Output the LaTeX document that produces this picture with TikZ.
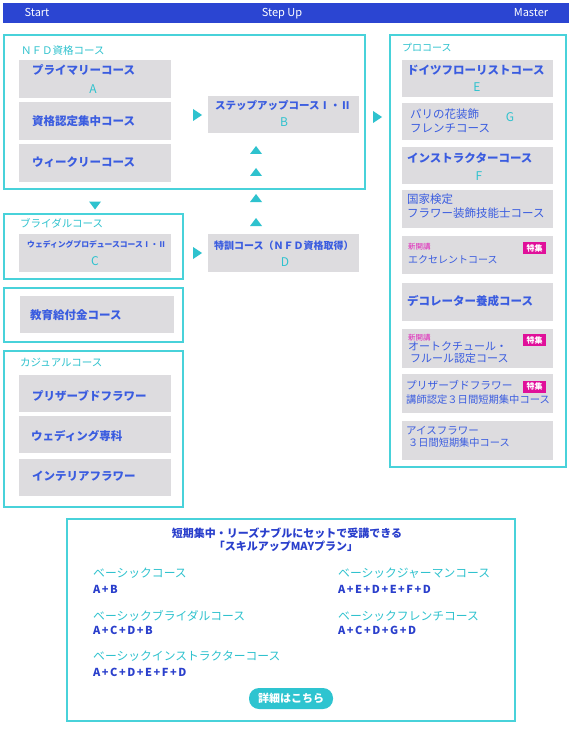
\documentclass[tikz,border=0pt]{standalone}
\usepackage{fontspec}
\setmainfont{Noto Sans CJK JP}
\newfontfamily\codefont[LetterSpace=14]{Noto Sans CJK JP}
\usetikzlibrary{fit}
\definecolor{barblue}{HTML}{2B45D2}
\definecolor{frmc}{HTML}{48D2DA}
\definecolor{tealt}{HTML}{2EC2CE}
\definecolor{grayf}{HTML}{DDDCDF}
\definecolor{txtblue}{HTML}{3A5CE0}
\definecolor{darkblue}{HTML}{2A3FCC}
\definecolor{magt}{HTML}{E020B8}
\definecolor{badgec}{HTML}{E0109A}
\definecolor{btnc}{HTML}{2EC4D0}
\begin{document}
\begin{tikzpicture}[x=1pt,y=-1pt,
  frm/.style={draw=frmc, line width=1.3pt, inner sep=0, fill=white},
  gbox/.style={fill=grayf, draw=none, inner sep=0},
  tw/.style={anchor=west, inner sep=0, text height=0.88em, text depth=0.12em},
  blb/.style={tw, text=txtblue, font=\bfseries\fontsize{#1}{#1}\selectfont},
  blb/.default=11.5,
  blr/.style={tw, text=txtblue, font=\fontsize{#1}{#1}\selectfont},
  blr/.default=11.5,
  ttl/.style={tw, text=tealt, font=\fontsize{#1}{#1}\selectfont},
  ttl/.default=10.5,
  lett/.style={anchor=center, inner sep=0, text height=0.88em, text depth=0.12em, text=tealt, font=\fontsize{12}{12}\selectfont},
  newk/.style={tw, text=magt, font=\fontsize{7.5}{7.5}\selectfont},
  badge/.style={fill=badgec, text=white, inner sep=0, minimum width=23pt, minimum height=12pt, font=\bfseries\fontsize{8}{8}\selectfont},
  code/.style={tw, text=darkblue, font=\codefont\bfseries\fontsize{11}{11}\selectfont},
  bartxt/.style={anchor=center, inner sep=0, text height=0.88em, text depth=0.12em, text=white, font=\fontsize{11}{11}\selectfont},
  rtri/.pic={\fill[tealt] (-4.5,-6) -- (4.5,0) -- (-4.5,6) -- cycle;},
  utri/.pic={\fill[tealt] (-6,4) -- (0,-4) -- (6,4) -- cycle;},
  dtri/.pic={\fill[tealt] (-6,-4) -- (0,4) -- (6,-4) -- cycle;}
]
\useasboundingbox (0,0) rectangle (572,738);
\fill[white] (0,0) rectangle (572,738);

% top bar
\node[fill=barblue, inner sep=0, fit={(3,3)(569,23)}] (bar) {};
\node[bartxt] (tstart) at (37,13) {Start};
\node[bartxt] (tstep) at (282,13) {Step Up};
\node[bartxt] (tmaster) at (531,13) {Master};

% frames
\node[frm, fit={(4,35)(365,189)}] (nfd) {};
\node[frm, fit={(390,35)(566,467)}] (pro) {};
\node[frm, fit={(4,214)(183,279)}] (bridal) {};
\node[frm, fit={(4,288)(183,342)}] (edu) {};
\node[frm, fit={(4,351)(183,507)}] (casual) {};
\node[frm, fit={(67,519)(515,721)}] (plan) {};

% NFD
\node[ttl] (tnfd) at (21,51) {ＮＦＤ資格コース};
\node[gbox, fit={(19,60)(171,98)}] (gA) {};
\node[gbox, fit={(19,102)(171,140)}] (gS) {};
\node[gbox, fit={(19,144)(171,182)}] (gW) {};
\node[blb] (tA) at (32,71) {プライマリーコース};
\node[lett] (lA) at (93,90) {A};
\node[blb] (tS) at (32,122) {資格認定集中コース};
\node[blb] (tW) at (32,163) {ウィークリーコース};

\node[gbox, fit={(208,96)(359,133)}] (gB) {};
\node[blb=10.5] (tB) at (215,106) {ステップアップコースⅠ・Ⅱ};
\node[lett] (lB) at (284,123) {B};

% special D
\node[gbox, fit={(208,234)(359,272)}] (gD) {};
\node[blb=10] (tD) at (214,246) {特訓コース（ＮＦＤ資格取得）};
\node[lett] (lD) at (285,263) {D};

% bridal
\node[ttl] (tbr) at (20,224) {ブライダルコース};
\node[gbox, fit={(19,234)(171,272)}] (gC) {};
\node[blb=7.8] (tC) at (27,244) {ウェディングプロデュースコースⅠ・Ⅱ};
\node[lett] (lC) at (95,262) {C};

% education
\node[gbox, fit={(20,296)(174,333)}] (gE1) {};
\node[blb] (tE1) at (30,316) {教育給付金コース};

% casual
\node[ttl] (tcas) at (20,363) {カジュアルコース};
\node[gbox, fit={(19,375)(171,412)}] (gc1) {};
\node[gbox, fit={(19,416)(171,453)}] (gc2) {};
\node[gbox, fit={(19,459)(171,496)}] (gc3) {};
\node[blb] (tc1) at (32,397) {プリザーブドフラワー};
\node[blb] (tc2) at (31,437) {ウェディング専科};
\node[blb] (tc3) at (32,477) {インテリアフラワー};

% pro
\node[ttl=10] (tpro) at (402,48) {プロコース};
\node[gbox, fit={(402,60)(553,97)}] (pE) {};
\node[gbox, fit={(402,103)(553,140)}] (pG) {};
\node[gbox, fit={(402,147)(553,184)}] (pF) {};
\node[gbox, fit={(402,190)(553,228)}] (pK) {};
\node[gbox, fit={(402,236)(553,274)}] (pX) {};
\node[gbox, fit={(402,283)(553,321)}] (pDc) {};
\node[gbox, fit={(402,329)(553,368)}] (pH) {};
\node[gbox, fit={(402,374)(553,413)}] (pP) {};
\node[gbox, fit={(402,421)(553,460)}] (pI) {};

\node[blb] (tE) at (407,71) {ドイツフローリストコース};
\node[lett] (lE) at (477,88) {E};
\node[blr] (tG1) at (410,115) {パリの花装飾};
\node[blr] (tG2) at (410,129) {フレンチコース};
\node[lett] (lG) at (510,118) {G};
\node[blb] (tF) at (407,159) {インストラクターコース};
\node[lett] (lF) at (479,177) {F};
\node[blr] (tK1) at (407,200) {国家検定};
\node[blr] (tK2) at (407,214) {フラワー装飾技能士コース};
\node[newk] (nX) at (408,246) {新開講};
\node[badge] (bX) at (534.5,248) {特集};
\node[blr=10] (tX) at (408,260) {エクセレントコース};
\node[blb] (tDc) at (407,302) {デコレーター養成コース};
\node[newk] (nH) at (408,337) {新開講};
\node[badge] (bH) at (534.5,340) {特集};
\node[blr=11] (tH1) at (408,347) {オートクチュール・};
\node[blr=11] (tH2) at (410,359) {フルール認定コース};
\node[blr=10.7] (tP1) at (406,386) {プリザーブドフラワー};
\node[badge] (bP) at (534.5,386.5) {特集};
\node[blr=10.3] (tP2) at (406,400) {講師認定３日間短期集中コース};
\node[blr=10.5] (tI1) at (406,431) {アイスフラワー};
\node[blr=10.2] (tI2) at (408,443) {３日間短期集中コース};

% arrows
\pic at (197.5,115) {rtri};
\pic at (377.5,117) {rtri};
\pic at (197.5,253) {rtri};
\pic at (256,150) {utri};
\pic at (256,172) {utri};
\pic at (256,198) {utri};
\pic at (256,222) {utri};
\pic at (95,205.5) {dtri};

% plan box
\node[anchor=center, inner sep=0, text height=0.88em, text depth=0.12em, text=darkblue, font=\bfseries\fontsize{11}{11}\selectfont] (pt1) at (287,534) {短期集中・リーズナブルにセットで受講できる};
\node[anchor=center, inner sep=0, text height=0.88em, text depth=0.12em, text=darkblue, font=\bfseries\fontsize{11}{11}\selectfont] (pt2) at (286,547) {「スキルアップMAYプラン」};
\node[ttl=11.8] (c1) at (93,574) {ベーシックコース};
\node[code] (k1) at (93,590) {A+B};
\node[ttl=11.8] (c2) at (93,617) {ベーシックブライダルコース};
\node[code] (k2) at (93,631) {A+C+D+B};
\node[ttl=11.8] (c3) at (93,657) {ベーシックインストラクターコース};
\node[code] (k3) at (93,673) {A+C+D+E+F+D};
\node[ttl=11.8] (c4) at (338,574) {ベーシックジャーマンコース};
\node[code] (k4) at (338,590) {A+E+D+E+F+D};
\node[ttl=11.8] (c5) at (338,617) {ベーシックフレンチコース};
\node[code] (k5) at (338,631) {A+C+D+G+D};
\node[fill=btnc, rounded corners=10pt, minimum width=84pt, minimum height=21pt, inner sep=0, text=white, font=\bfseries\fontsize{11}{11}\selectfont] (more) at (291,698.5) {詳細はこちら};
\end{tikzpicture}
\end{document}
